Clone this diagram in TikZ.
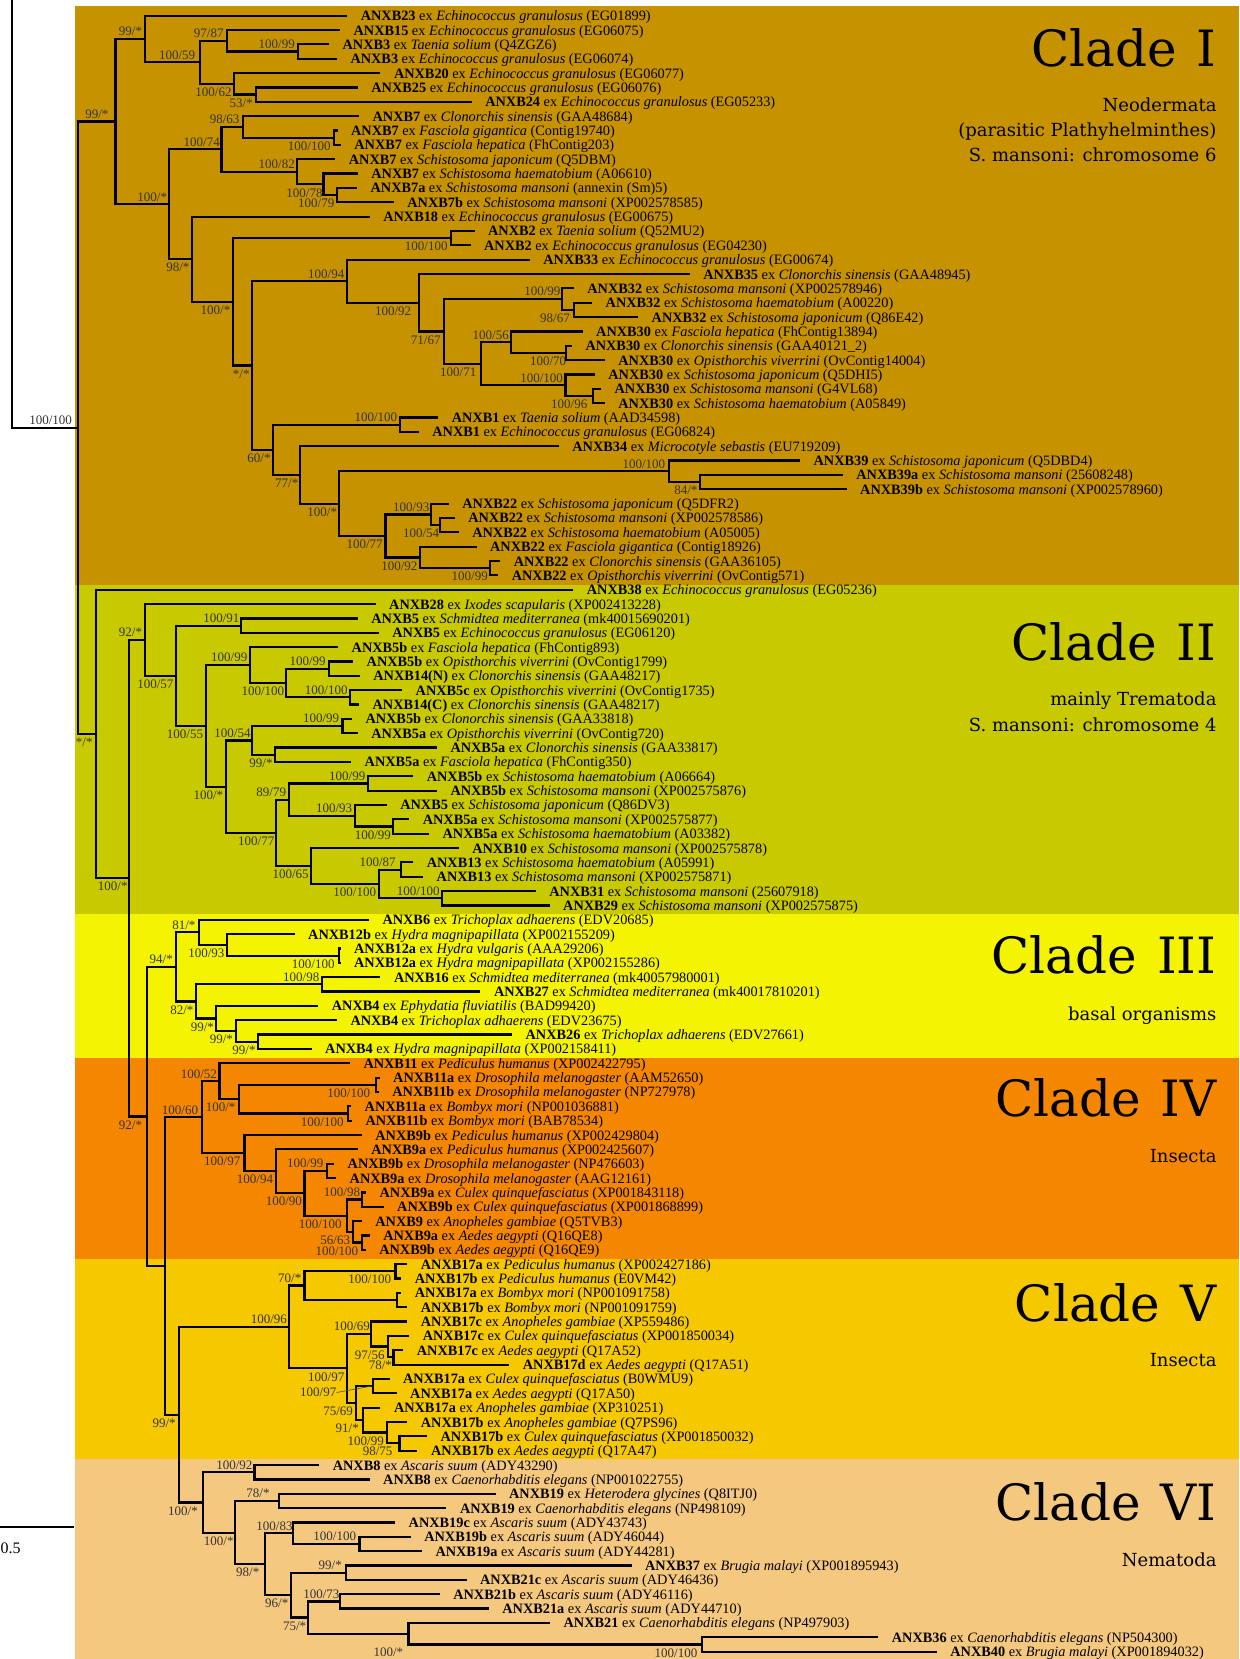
\documentclass[tikz,border=0pt]{standalone}
\usepackage{fontspec}
\setmainfont{Liberation Serif}
\newfontfamily\cladefont{DejaVu Serif}
\definecolor{cI}{RGB}{198,146,0}
\definecolor{cII}{RGB}{201,201,0}
\definecolor{cIII}{RGB}{244,244,0}
\definecolor{cIV}{RGB}{245,135,0}
\definecolor{cV}{RGB}{245,200,0}
\definecolor{cVI}{RGB}{245,200,128}
\newcommand\tip[7]{%
  \coordinate (#1) at (#3,{15.7+(#2-1)*14.35});
  \draw[br] (#4) |- (#1);
  \node[tiplab] (#1-l) at ([xshift=13.4pt,yshift=-5pt]#1) {\textbf{#5} ex \textit{#6} (#7)};
}
\newcommand\inode[7]{%
  \coordinate (#1) at (#2,#3);
  \draw[br] (#4) |- (#1);
  \if a#5\node[slab] (#1-l) at (#6,#3-3.2) {#7};\fi
  \if b#5\node[slab] (#1-l) at (#6,#3+12.7) {#7};\fi
}
\begin{document}
\begin{tikzpicture}[x=1pt,y=-1pt,
  br/.style={line width=2.2pt},
  leader/.style={line width=0.6pt,black!70},
  tiplab/.style={anchor=base west,inner sep=0pt,font=\fontsize{14.3}{15}\selectfont},
  slab/.style={anchor=base,inner sep=0pt,text=black!80,font=\fontsize{13}{13}\selectfont},
  cladebig/.style={anchor=base east,inner sep=0pt,font=\cladefont\fontsize{50}{55}\selectfont},
  cladesub/.style={anchor=base east,inner sep=0pt,font=\cladefont\fontsize{18}{20}\selectfont}]
\useasboundingbox (0,0) rectangle (1239,1659);
\fill[white] (0,0) rectangle (1239,1659);
\fill[cI] (75.1,5.7) rectangle (1239,585);
\fill[cII] (75.1,585) rectangle (1239,914.3);
\fill[cIII] (75.1,914.3) rectangle (1239,1057.5);
\fill[cIV] (75.1,1057.5) rectangle (1239,1259.3);
\fill[cV] (75.1,1259.3) rectangle (1239,1459.3);
\fill[cVI] (75.1,1459.3) rectangle (1239,1659);
% clade labels
\node[cladebig] (L1) at (1216.7,66.7) {Clade\hspace{0.4em}I};
\node[cladesub] (L1a) at (1216.7,111.7) {Neodermata};
\node[cladesub] (L1b) at (1216.7,136.7) {(parasitic Plathyhelminthes)};
\node[cladesub] (L1c) at (1216.7,161.7) {S. mansoni: chromosome 6};
\node[cladebig] (L2) at (1216.7,660.8) {Clade\hspace{0.4em}II};
\node[cladesub] (L2a) at (1216.7,705.6) {mainly Trematoda};
\node[cladesub] (L2b) at (1216.7,731.6) {S. mansoni: chromosome 4};
\node[cladebig] (L3) at (1216.7,973.9) {Clade\hspace{0.4em}III};
\node[cladesub] (L3a) at (1216.7,1020.5) {basal organisms};
\node[cladebig] (L4) at (1216.7,1116.2) {Clade\hspace{0.4em}IV};
\node[cladesub] (L4a) at (1216.7,1162.1) {Insecta};
\node[cladebig] (L5) at (1216.7,1321.7) {Clade\hspace{0.4em}V};
\node[cladesub] (L5a) at (1216.7,1366.7) {Insecta};
\node[cladebig] (L6) at (1216.7,1520) {Clade\hspace{0.4em}VI};
\node[cladesub] (L6a) at (1216.7,1566.7) {Nematoda};
% scale bar
\coordinate (sb1) at (0,1527.3);
\coordinate (sb2) at (73.7,1527.3);
\draw[br] (sb1) -- (sb2);
\node[anchor=base west,inner sep=0pt,font=\fontsize{16}{17}\selectfont] (sbl) at (0.5,1553.3) {0.5};
% root
\coordinate (rtop) at (11.9,0);
\inode{A}{78.3}{427.8}{rtop}{a}{50.6}{100/100}
% Clade I
\inode{c1}{115.5}{121.6}{A}{a}{96.9}{99/*}
\inode{c1a}{144.7}{39}{c1}{a}{130.5}{99/*}
\tip{t1}{1}{347.2}{c1a}{ANXB23}{Echinococcus granulosus}{EG01899}
\inode{c1b}{199.7}{62.3}{c1a}{a}{177.1}{100/59}
\inode{c1c}{226.6}{40.8}{c1b}{a}{208.8}{97/87}
\tip{t2}{2}{340}{c1c}{ANXB15}{Echinococcus granulosus}{EG06075}
\inode{c1d}{297.7}{51.6}{c1c}{a}{276.8}{100/99}
\tip{t3}{3}{329}{c1d}{ANXB3}{Taenia solium}{Q4ZGZ6}
\tip{t4}{4}{336.9}{c1d}{ANXB3}{Echinococcus granulosus}{EG06074}
\inode{c1e}{234.1}{83.9}{c1b}{b}{213.5}{100/62}
\tip{t5}{5}{380.4}{c1e}{ANXB20}{Echinococcus granulosus}{EG06077}
\inode{c1f}{255.8}{94.6}{c1e}{b}{241.2}{53/*}
\tip{t6}{6}{357.8}{c1f}{ANXB25}{Echinococcus granulosus}{EG06076}
\tip{t7}{7}{471.7}{c1f}{ANXB24}{Echinococcus granulosus}{EG05233}
\inode{c2}{169.2}{204.3}{c1}{a}{152.2}{100/*}
\inode{c2a}{221.4}{149.3}{c2}{a}{201.7}{100/74}
\inode{c2b}{242.8}{126.9}{c2a}{a}{224.6}{98/63}
\tip{t8}{8}{359}{c2b}{ANXB7}{Clonorchis sinensis}{GAA48684}
\inode{c2c}{334.1}{137.7}{c2b}{b}{309.2}{100/100}
\tip{t9}{9}{337.5}{c2c}{ANXB7}{Fasciola gigantica}{Contig19740}
\tip{t10}{10}{340.8}{c2c}{ANXB7}{Fasciola hepatica}{FhContig203}
\inode{c2d}{297.3}{171.8}{c2a}{a}{276.8}{100/82}
\tip{t11}{11}{335.3}{c2d}{ANXB7}{Schistosoma japonicum}{Q5DBM}
\inode{c2e}{323.4}{184.3}{c2d}{b}{304.5}{100/78}
\tip{t12}{12}{357.8}{c2e}{ANXB7}{Schistosoma haematobium}{A06610}
\inode{c2f}{336.9}{195.1}{c2e}{b}{316.3}{100/79}
\tip{t13}{13}{357}{c2f}{ANXB7a}{Schistosoma mansoni}{annexin (Sm)5}
\tip{t14}{14}{393.8}{c2f}{ANXB7b}{Schistosoma mansoni}{XP002578585}
\inode{c3}{191.8}{259.2}{c2}{b}{177.9}{98/*}
\tip{t15}{15}{369.7}{c3}{ANXB18}{Echinococcus granulosus}{EG00675}
\inode{c3a}{233.3}{301.8}{c3}{b}{215.5}{100/*}
\inode{c3b}{450.7}{238.1}{c3a}{b}{426.2}{100/100}
\tip{t16}{16}{474.5}{c3b}{ANXB2}{Taenia solium}{Q52MU2}
\tip{t17}{17}{470.5}{c3b}{ANXB2}{Echinococcus granulosus}{EG04230}
\inode{c4}{252.3}{365.5}{c3a}{b}{241.2}{*/*}
\inode{c4a}{347.2}{281.2}{c4}{a}{326.2}{100/94}
\tip{t18}{18}{529.8}{c4a}{ANXB33}{Echinococcus granulosus}{EG00674}
\inode{c4b}{418.8}{302.7}{c4a}{b}{393.1}{100/92}
\tip{t19}{19}{689.7}{c4b}{ANXB35}{Clonorchis sinensis}{GAA48945}
\inode{c4c}{443.7}{331.4}{c4b}{b}{425.7}{71/67}
\inode{c4d}{562.3}{299.1}{c4c}{a}{542.4}{100/99}
\tip{t20}{20}{573.8}{c4d}{ANXB32}{Schistosoma mansoni}{XP002578946}
\inode{c4e}{573.8}{309.9}{c4d}{b}{555}{98/67}
\tip{t21}{21}{592.1}{c4e}{ANXB32}{Schistosoma haematobium}{A00220}
\tip{t22}{22}{638.1}{c4e}{ANXB32}{Schistosoma japonicum}{Q86E42}
\inode{c4f}{481.2}{363.7}{c4c}{b}{458.2}{100/71}
\inode{c4g}{510.6}{342.2}{c4f}{a}{490.7}{100/56}
\tip{t23}{23}{582.6}{c4g}{ANXB30}{Fasciola hepatica}{FhContig13894}
\inode{c4h}{566.1}{352.9}{c4g}{b}{548.1}{100/70}
\tip{t24}{24}{571.9}{c4h}{ANXB30}{Clonorchis sinensis}{GAA40121\_2}
\tip{t25}{25}{604.8}{c4h}{ANXB30}{Opisthorchis viverrini}{OvContig14004}
\inode{c4i}{565.4}{385.2}{c4f}{a}{541.6}{100/100}
\tip{t26}{26}{594.8}{c4i}{ANXB30}{Schistosoma japonicum}{Q5DHI5}
\inode{c4j}{592.9}{396}{c4i}{b}{569.2}{100/96}
\tip{t27}{27}{601}{c4j}{ANXB30}{Schistosoma mansoni}{G4VL68}
\tip{t28}{28}{604.8}{c4j}{ANXB30}{Schistosoma haematobium}{A05849}
\inode{c5}{272.8}{449.8}{c4}{b}{259}{60/*}
\inode{c5a}{400}{424.7}{c5}{a}{375.9}{100/100}
\tip{t29}{29}{438.3}{c5a}{ANXB1}{Taenia solium}{AAD34598}
\tip{t30}{30}{418.8}{c5a}{ANXB1}{Echinococcus granulosus}{EG06824}
\inode{c5b}{299.7}{474.9}{c5}{b}{286.7}{77/*}
\tip{t31}{31}{558.8}{c5b}{ANXB34}{Microcotyle sebastis}{EU719209}
\inode{c5c}{339.3}{503.6}{c5b}{b}{322.3}{100/*}
\inode{c5d}{668.7}{471.3}{c5c}{a}{643.8}{100/100}
\tip{t32}{32}{800}{c5d}{ANXB39}{Schistosoma japonicum}{Q5DBD4}
\inode{c5e}{700}{482.1}{c5d}{b}{685.9}{84/*}
\tip{t33}{33}{842.8}{c5e}{ANXB39a}{Schistosoma mansoni}{25608248}
\tip{t34}{34}{846.6}{c5e}{ANXB39b}{Schistosoma mansoni}{XP002578960}
\inode{c5f}{385.5}{535.9}{c5c}{b}{364.6}{100/77}
\inode{c5g}{431}{514.4}{c5f}{a}{411.2}{100/93}
\tip{t35}{35}{448.8}{c5g}{ANXB22}{Schistosoma japonicum}{Q5DFR2}
\inode{c5h}{440.1}{525.1}{c5g}{b}{421.1}{100/54}
\tip{t36}{36}{454.7}{c5h}{ANXB22}{Schistosoma mansoni}{XP002578586}
\tip{t37}{37}{458.7}{c5h}{ANXB22}{Schistosoma haematobium}{A05005}
\inode{c5i}{420.3}{557.4}{c5f}{b}{399.4}{100/92}
\tip{t38}{38}{476.5}{c5i}{ANXB22}{Fasciola gigantica}{Contig18926}
\inode{c5j}{490.3}{568.2}{c5i}{b}{469.7}{100/99}
\tip{t39}{39}{500.2}{c5j}{ANXB22}{Clonorchis sinensis}{GAA36105}
\tip{t40}{40}{498.2}{c5j}{ANXB22}{Opisthorchis viverrini}{OvContig571}
% Clade II
\inode{B}{96.1}{733.9}{A}{b}{84.2}{*/*}
\tip{t41}{41}{573.3}{B}{ANXB38}{Echinococcus granulosus}{EG05236}
\inode{C}{129.3}{878.1}{B}{b}{112.7}{100/*}
\inode{d1}{144.7}{639.9}{C}{a}{130.5}{92/*}
\tip{t42}{42}{375.6}{d1}{ANXB28}{Ixodes scapularis}{XP002413228}
\inode{d2}{176}{675.7}{d1}{b}{155.4}{100/57}
\inode{d3}{241.2}{625.6}{d2}{a}{221.4}{100/91}
\tip{t43}{43}{357.8}{d3}{ANXB5}{Schmidtea mediterranea}{mk40015690201}
\tip{t44}{44}{378.8}{d3}{ANXB5}{Echinococcus granulosus}{EG06120}
\inode{d4}{205.6}{725.8}{d2}{b}{185}{100/55}
\inode{d5}{250.3}{665}{d4}{a}{229.3}{100/99}
\tip{t45}{45}{338.1}{d5}{ANXB5b}{Fasciola hepatica}{FhContig893}
\inode{d6}{285.9}{683}{d5}{b}{262.9}{100/100}
\inode{d7}{328.6}{668.6}{d6}{a}{307.6}{100/99}
\tip{t46}{46}{353.1}{d7}{ANXB5b}{Opisthorchis viverrini}{OvContig1799}
\tip{t47}{47}{359.8}{d7}{ANXB14(N)}{Clonorchis sinensis}{GAA48217}
\inode{d8}{350.3}{697.3}{d6}{a}{326.2}{100/100}
\tip{t48}{48}{402.1}{d8}{ANXB5c}{Opisthorchis viverrini}{OvContig1735}
\tip{t49}{49}{359}{d8}{ANXB14(C)}{Clonorchis sinensis}{GAA48217}
\inode{d9}{226.2}{786.6}{d4}{b}{208.4}{100/*}
\inode{d10}{252.3}{740.4}{d9}{a}{232.5}{100/54}
\inode{d11}{342.4}{726}{d10}{a}{321.1}{100/99}
\tip{t50}{50}{351.9}{d11}{ANXB5b}{Clonorchis sinensis}{GAA33818}
\tip{t51}{51}{357.8}{d11}{ANXB5a}{Opisthorchis viverrini}{OvContig720}
\inode{d12}{274.8}{754.7}{d10}{b}{261}{99/*}
\tip{t52}{52}{436.9}{d12}{ANXB5a}{Clonorchis sinensis}{GAA33817}
\tip{t53}{53}{351.1}{d12}{ANXB5a}{Fasciola hepatica}{FhContig350}
\inode{d13}{275.6}{832.8}{d9}{b}{256.2}{100/77}
\inode{d14}{288.6}{799.6}{d13}{a}{271.2}{89/79}
\inode{d15}{367.7}{783.4}{d14}{a}{347.2}{100/99}
\tip{t54}{54}{413.2}{d15}{ANXB5b}{Schistosoma haematobium}{A06664}
\tip{t55}{55}{436.9}{d15}{ANXB5b}{Schistosoma mansoni}{XP002575876}
\inode{d16}{354.7}{815.7}{d14}{a}{334.1}{100/93}
\tip{t56}{56}{386.7}{d16}{ANXB5}{Schistosoma japonicum}{Q86DV3}
\inode{d17}{392.6}{826.5}{d16}{b}{372.9}{100/99}
\tip{t57}{57}{409.2}{d17}{ANXB5a}{Schistosoma mansoni}{XP002575877}
\tip{t58}{58}{429}{d17}{ANXB5a}{Schistosoma haematobium}{A03382}
\inode{d18}{311.2}{866}{d13}{b}{290.6}{100/65}
\tip{t59}{59}{458.7}{d18}{ANXB10}{Schistosoma mansoni}{XP002575878}
\inode{d19}{378.8}{883.9}{d18}{b}{354.7}{100/100}
\inode{d20}{401.3}{869.6}{d19}{a}{377.6}{100/87}
\tip{t60}{60}{413.2}{d20}{ANXB13}{Schistosoma haematobium}{A05991}
\tip{t61}{61}{423.1}{d20}{ANXB13}{Schistosoma mansoni}{XP002575871}
\inode{d21}{442.1}{898.2}{d19}{a}{418.3}{100/100}
\tip{t62}{62}{535.8}{d21}{ANXB31}{Schistosoma mansoni}{25607918}
\tip{t63}{63}{549.6}{d21}{ANXB29}{Schistosoma mansoni}{XP002575875}
% Clade III
\inode{D}{147.1}{1116.4}{C}{b}{130.5}{92/*}
\inode{e1}{176}{966.9}{D}{a}{161.3}{94/*}
\inode{e2}{198.9}{932.3}{e1}{a}{183.9}{81/*}
\tip{t64}{64}{368.9}{e2}{ANXB6}{Trichoplax adhaerens}{EDV20685}
\inode{e3}{226.6}{944.9}{e2}{b}{206.4}{100/93}
\tip{t65}{65}{294.6}{e3}{ANXB12b}{Hydra magnipapillata}{XP002155209}
\inode{e4}{338.9}{955.6}{e3}{b}{313.2}{100/100}
\tip{t66}{66}{340.5}{e4}{ANXB12a}{Hydra vulgaris}{AAA29206}
\tip{t67}{67}{340.5}{e4}{ANXB12a}{Hydra magnipapillata}{XP002155286}
\inode{e5}{195.7}{1001.4}{e1}{b}{181.9}{82/*}
\inode{e6}{322.3}{984.3}{e5}{a}{301.3}{100/98}
\tip{t68}{68}{380.4}{e6}{ANXB16}{Schmidtea mediterranea}{mk40057980001}
\tip{t69}{69}{480.4}{e6}{ANXB27}{Schmidtea mediterranea}{mk40017810201}
\inode{e7}{216.3}{1018.4}{e5}{b}{202.4}{99/*}
\tip{t70}{70}{318.3}{e7}{ANXB4}{Ephydatia fluviatilis}{BAD99420}
\inode{e8}{236.1}{1031}{e7}{b}{221.4}{99/*}
\tip{t71}{71}{336.9}{e8}{ANXB4}{Trichoplax adhaerens}{EDV23675}
\inode{e9}{257.8}{1041.7}{e8}{b}{244}{99/*}
\tip{t72}{72}{512}{e9}{ANXB26}{Trichoplax adhaerens}{EDV27661}
\tip{t73}{73}{311.6}{e9}{ANXB4}{Hydra magnipapillata}{XP002158411}
% Clade IV
\inode{F}{165.3}{1266}{D}{n}{0}{}
\inode{G}{201.7}{1117.2}{F}{a}{180}{100/60}
\inode{g1}{219.4}{1081.2}{G}{a}{198.9}{100/52}
\tip{t74}{74}{349.9}{g1}{ANXB11}{Pediculus humanus}{XP002422795}
\inode{g2}{239.2}{1099.1}{g1}{b}{220.6}{100/*}
\inode{g3}{375.6}{1084.8}{g2}{b}{348.7}{100/100}
\tip{t75}{75}{379.6}{g3}{ANXB11a}{Drosophila melanogaster}{AAM52650}
\tip{t76}{76}{378.8}{g3}{ANXB11b}{Drosophila melanogaster}{NP727978}
\inode{g4}{347.9}{1113.5}{g2}{b}{322.3}{100/100}
\tip{t77}{77}{351.1}{g4}{ANXB11a}{Bombyx mori}{NP001036881}
\tip{t78}{78}{351.9}{g4}{ANXB11b}{Bombyx mori}{BAB78534}
\inode{g5}{244.4}{1153.1}{G}{b}{222.2}{100/97}
\tip{t79}{79}{361.8}{g5}{ANXB9b}{Pediculus humanus}{XP002429804}
\inode{g6}{275.6}{1171.2}{g5}{b}{255}{100/94}
\tip{t80}{80}{357.8}{g6}{ANXB9a}{Pediculus humanus}{XP002425607}
\inode{g7}{304.5}{1193.2}{g6}{b}{283.9}{100/90}
\inode{g8}{327}{1170.8}{g7}{a}{305.2}{100/99}
\tip{t81}{81}{334.1}{g8}{ANXB9b}{Drosophila melanogaster}{NP476603}
\tip{t82}{82}{336.1}{g8}{ANXB9a}{Drosophila melanogaster}{AAG12161}
\inode{g9}{346.8}{1215.6}{g7}{b}{320.3}{100/100}
\inode{g10}{361.8}{1199.5}{g9}{a}{342}{100/98}
\tip{t83}{83}{366}{g10}{ANXB9a}{Culex quinquefasciatus}{XP001843118}
\tip{t84}{84}{383.6}{g10}{ANXB9b}{Culex quinquefasciatus}{XP001868899}
\inode{g11}{352.7}{1231.8}{g9}{b}{335.3}{56/63}
\tip{t85}{85}{361.8}{g11}{ANXB9}{Anopheles gambiae}{Q5TVB3}
\inode{g12}{361.8}{1242.5}{g11}{b}{336.9}{100/100}
\tip{t86}{86}{369.7}{g12}{ANXB9a}{Aedes aegypti}{Q16QE8}
\tip{t87}{87}{365.7}{g12}{ANXB9b}{Aedes aegypti}{Q16QE9}
% Clade V
\inode{H}{178.7}{1414.7}{F}{b}{164.1}{99/*}
\inode{v1}{288.6}{1326.9}{H}{a}{268.9}{100/96}
\inode{v2}{304.5}{1285.4}{v1}{a}{289.8}{70/*}
\inode{v3}{395.4}{1271}{v2}{b}{369.7}{100/100}
\tip{t88}{88}{407.3}{v3}{ANXB17a}{Pediculus humanus}{XP002427186}
\tip{t89}{89}{401.3}{v3}{ANXB17b}{Pediculus humanus}{E0VM42}
\inode{v4}{396.6}{1299.7}{v2}{n}{0}{}
\tip{t90}{90}{401.3}{v4}{ANXB17a}{Bombyx mori}{NP001091758}
\tip{t91}{91}{407.3}{v4}{ANXB17b}{Bombyx mori}{NP001091759}
\inode{v5}{346.8}{1368.3}{v1}{b}{326.2}{100/97}
\inode{v6}{370.9}{1333.8}{v5}{a}{351.9}{100/69}
\tip{t92}{92}{407.3}{v6}{ANXB17c}{Anopheles gambiae}{XP559486}
\inode{v7}{388.3}{1346.4}{v6}{b}{369.7}{97/56}
\tip{t93}{93}{409.2}{v7}{ANXB17c}{Culex quinquefasciatus}{XP001850034}
\inode{v8}{393.4}{1357.1}{v7}{b}{380.4}{78/*}
\tip{t94}{94}{403.3}{v8}{ANXB17c}{Aedes aegypti}{Q17A52}
\tip{t95}{95}{509.3}{v8}{ANXB17d}{Aedes aegypti}{Q17A51}
\inode{v9}{355.9}{1402.9}{v5}{b}{338.1}{75/69}
\inode{v10}{372.9}{1385.8}{v9}{n}{0}{}
\node[slab] (v10-l) at (318.3,1396.5) {100/97};
\draw[leader] ([yshift=4pt]v10-l.base east) -- (v10);
\tip{t96}{96}{389.5}{v10}{ANXB17a}{Culex quinquefasciatus}{B0WMU9}
\tip{t97}{97}{396.6}{v10}{ANXB17a}{Aedes aegypti}{Q17A50}
\inode{v11}{363}{1419.9}{v9}{b}{347.2}{91/*}
\tip{t98}{98}{380.4}{v11}{ANXB17a}{Anopheles gambiae}{XP310251}
\inode{v12}{386.7}{1432.5}{v11}{b}{365.7}{100/99}
\tip{t99}{99}{407.3}{v12}{ANXB17b}{Anopheles gambiae}{Q7PS96}
\inode{v13}{399.4}{1443.2}{v12}{b}{377.6}{98/75}
\tip{t100}{100}{427}{v13}{ANXB17b}{Culex quinquefasciatus}{XP001850032}
\tip{t101}{101}{417.4}{v13}{ANXB17b}{Aedes aegypti}{Q17A47}
% Clade VI
\inode{w1}{203.1}{1502.4}{H}{b}{183}{100/*}
\inode{w2}{254.5}{1472.2}{w1}{a}{234.4}{100/92}
\tip{t102}{102}{319.2}{w2}{ANXB8}{Ascaris suum}{ADY43290}
\tip{t103}{103}{369.6}{w2}{ANXB8}{Caenorhabditis elegans}{NP001022755}
\inode{w3}{235.3}{1532.6}{w1}{b}{218.7}{100/*}
\inode{w4}{279}{1500.9}{w3}{a}{258}{78/*}
\tip{t104}{104}{495.5}{w4}{ANXB19}{Heterodera glycines}{Q8ITJ0}
\tip{t105}{105}{446.4}{w4}{ANXB19}{Caenorhabditis elegans}{NP498109}
\inode{w5}{264.7}{1564.2}{w3}{b}{247.8}{98/*}
\inode{w6}{293.3}{1533.2}{w5}{a}{274.5}{100/83}
\tip{t106}{106}{395.1}{w6}{ANXB19c}{Ascaris suum}{ADY43743}
\inode{w7}{359.4}{1544}{w6}{a}{334.8}{100/100}
\tip{t107}{107}{410.7}{w7}{ANXB19b}{Ascaris suum}{ADY46044}
\tip{t108}{108}{421.9}{w7}{ANXB19a}{Ascaris suum}{ADY44281}
\inode{w8}{291}{1595.1}{w5}{b}{276.8}{96/*}
\inode{w9}{346}{1572.7}{w8}{a}{330.3}{99/*}
\tip{t109}{109}{631.5}{w9}{ANXB37}{Brugia malayi}{XP001895943}
\tip{t110}{110}{466.5}{w9}{ANXB21c}{Ascaris suum}{ADY46436}
\inode{w10}{308}{1617.5}{w8}{b}{294.6}{75/*}
\inode{w11}{340.2}{1601.4}{w10}{a}{321.4}{100/73}
\tip{t111}{111}{439.7}{w11}{ANXB21b}{Ascaris suum}{ADY46116}
\tip{t112}{112}{488.8}{w11}{ANXB21a}{Ascaris suum}{ADY44710}
\inode{w12}{408.5}{1633.7}{w10}{n}{0}{}
\node[slab] (w12-l) at (388.4,1656.5) {100/*};
\tip{t113}{113}{550}{w12}{ANXB21}{Caenorhabditis elegans}{NP497903}
\inode{w13}{701.6}{1644.4}{w12}{b}{676}{100/100}
\tip{t114}{114}{878.3}{w13}{ANXB36}{Caenorhabditis elegans}{NP504300}
\tip{t115}{115}{936.8}{w13}{ANXB40}{Brugia malayi}{XP001894032}
\end{tikzpicture}
\end{document}
